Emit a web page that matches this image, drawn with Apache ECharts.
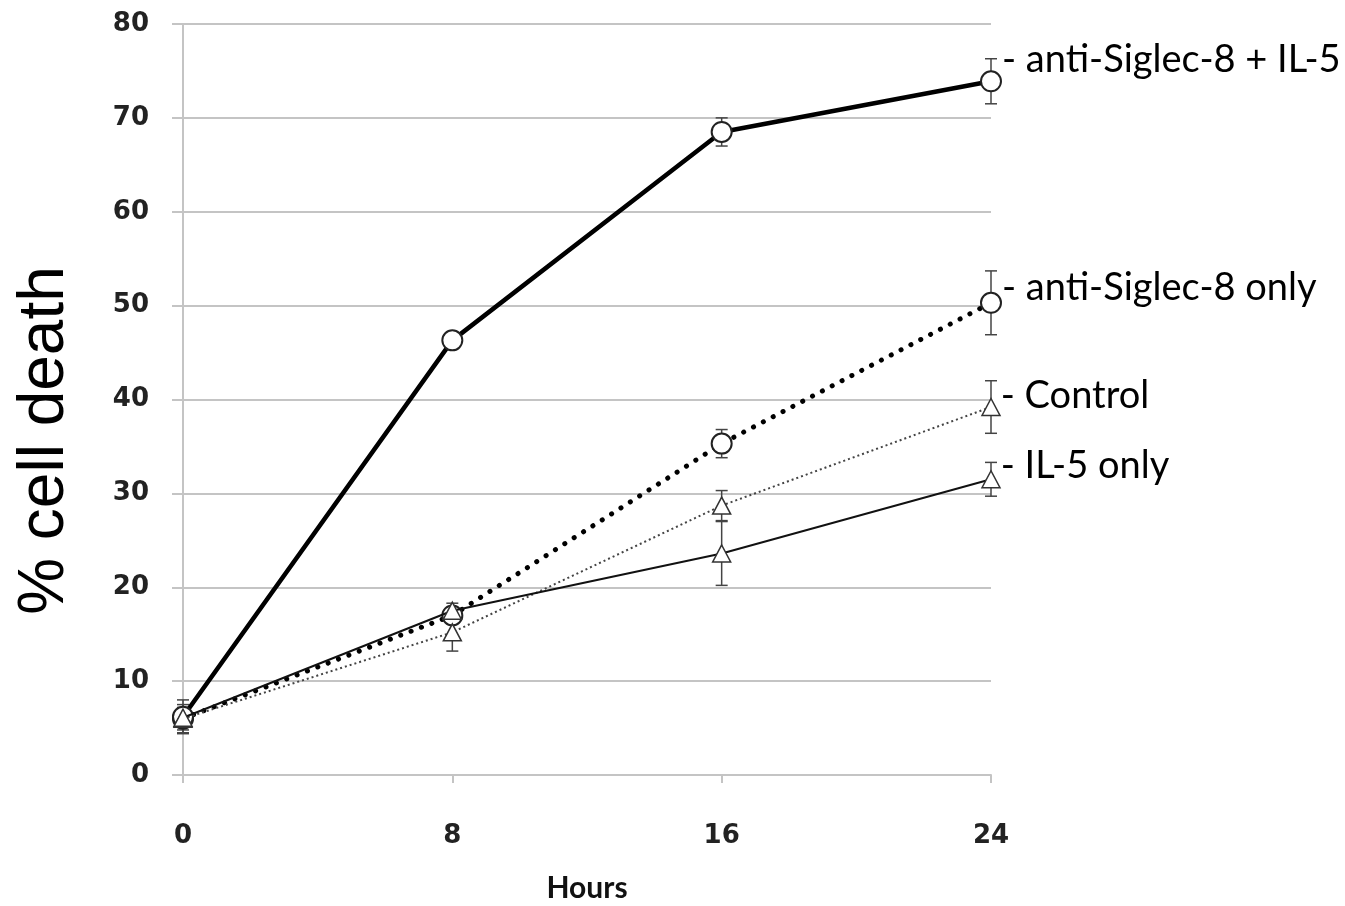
<!DOCTYPE html>
<html>
<head>
<meta charset="utf-8">
<script src="https://cdn.jsdelivr.net/npm/echarts@6/dist/echarts.min.js"></script>
<style>
  html, body { margin: 0; padding: 0; background: #fff; }
  #main { width: 1345px; height: 906px; }
</style>
</head>
<body>
<div id="main"></div>
<script>
// values
var hours = [0, 8, 16, 24];
var seriesNames = ["anti-Siglec-8 + IL-5", "anti-Siglec-8 only", "Control", "IL-5 only"];
var comboVals = [6.2, 46.3, 68.5, 73.9];
var comboErr = [1.8, 0.6, 1.5, 2.4];
var siglecVals = [6.0, 17.0, 35.3, 50.3];
var siglecErr = [1.5, 0.6, 1.5, 3.4];
var controlVals = [6.0, 15.2, 28.7, 39.2];
var controlErr = [1.2, 2.0, 1.6, 2.8];
var il5Vals = [6.1, 17.5, 23.6, 31.5];
var il5Err = [1.0, 0.8, 3.4, 1.8];

var chart = echarts.init(document.getElementById("main"));

function pts(vals, name, labelOffset) {
  var out = [];
  for (var i = 0; i < hours.length; i++) {
    var item = { value: [hours[i], vals[i]] };
    if (i === hours.length - 1) {
      item.label = {
        show: true,
        position: "right",
        offset: labelOffset,
        formatter: "- " + name,
        fontFamily: "Lato",
        fontSize: 38,
        color: "#000"
      };
    }
    out.push(item);
  }
  return out;
}

function errData(vals, errs) {
  var out = [];
  for (var i = 0; i < hours.length; i++) {
    out.push([hours[i], vals[i] - errs[i], vals[i] + errs[i]]);
  }
  return out;
}

function errSeries(vals, errs) {
  return {
    type: "custom",
    z: 1,
    silent: true,
    data: errData(vals, errs),
    renderItem: function (params, api) {
      var lo = api.coord([api.value(0), api.value(1)]);
      var hi = api.coord([api.value(0), api.value(2)]);
      var w = 6;
      var st = { stroke: "#444", lineWidth: 1.5 };
      return {
        type: "group",
        children: [
          { type: "line", shape: { x1: lo[0], y1: lo[1], x2: hi[0], y2: hi[1] }, style: st },
          { type: "line", shape: { x1: lo[0] - w, y1: lo[1], x2: lo[0] + w, y2: lo[1] }, style: st },
          { type: "line", shape: { x1: hi[0] - w, y1: hi[1], x2: hi[0] + w, y2: hi[1] }, style: st }
        ]
      };
    }
  };
}

var tri = "path://M50,0 L100,90 L0,90 Z";

chart.setOption({
  animation: false,
  grid: { left: 183, right: 354, top: 24, bottom: 131, containLabel: false, outerBoundsMode: "none" },
  xAxis: {
    type: "value",
    min: 0,
    max: 24,
    interval: 8,
    name: "Hours",
    nameLocation: "middle",
    nameGap: 98,
    nameTextStyle: { fontFamily: "Lato", fontWeight: "bold", fontSize: 30, color: "#111" },
    axisLine: { show: true, lineStyle: { color: "#c4c4c4", width: 2 } },
    axisTick: { show: true, inside: false, length: 8, lineStyle: { color: "#c4c4c4", width: 2 } },
    splitLine: { show: false },
    axisLabel: { margin: 48, fontFamily: "DejaVu Sans", fontWeight: "bold", fontSize: 26, color: "#222" }
  },
  yAxis: {
    type: "value",
    min: 0,
    max: 80,
    interval: 10,
    name: "% cell death",
    nameLocation: "middle",
    nameGap: 106,
    nameTextStyle: { fontFamily: "Liberation Sans", fontSize: 64, color: "#000", padding: [0, 82, 0, 0] },
    axisLine: { show: true, lineStyle: { color: "#c4c4c4", width: 2 } },
    axisTick: { show: true, inside: false, length: 11, lineStyle: { color: "#c4c4c4", width: 2 } },
    splitLine: { show: true, lineStyle: { color: "#c4c4c4", width: 2 } },
    axisLabel: { margin: 34, padding: [6, 0, 0, 0], fontFamily: "DejaVu Sans", fontWeight: "bold", fontSize: 26, color: "#222" }
  },
  series: [
    errSeries(comboVals, comboErr),
    errSeries(siglecVals, siglecErr),
    errSeries(controlVals, controlErr),
    errSeries(il5Vals, il5Err),
    {
      name: seriesNames[1],
      type: "line",
      z: 2,
      data: pts(siglecVals, seriesNames[1], [-5, -15]),
      symbol: "circle",
      symbolSize: 20,
      itemStyle: { color: "#fff", borderColor: "#222", borderWidth: 2 },
      lineStyle: { color: "#000", width: 5, type: [0.1, 11], cap: "round" }
    },
    {
      name: seriesNames[0],
      type: "line",
      z: 3,
      data: pts(comboVals, seriesNames[0], [-5, -22]),
      symbol: "circle",
      symbolSize: 20,
      itemStyle: { color: "#fff", borderColor: "#222", borderWidth: 2 },
      lineStyle: { color: "#000", width: 4.5 }
    },
    {
      name: seriesNames[2],
      type: "line",
      z: 4,
      data: pts(controlVals, seriesNames[2], [-5, -11]),
      symbol: tri,
      symbolSize: [18, 17],
      itemStyle: { color: "#fff", borderColor: "#333", borderWidth: 1.5 },
      lineStyle: { color: "#444", width: 2, type: [2, 3] }
    },
    {
      name: seriesNames[3],
      type: "line",
      z: 5,
      data: pts(il5Vals, seriesNames[3], [-5, -14]),
      symbol: tri,
      symbolSize: [18, 17],
      itemStyle: { color: "#fff", borderColor: "#333", borderWidth: 1.5 },
      lineStyle: { color: "#111", width: 2 }
    }
  ]
});
</script>
</body>
</html>
